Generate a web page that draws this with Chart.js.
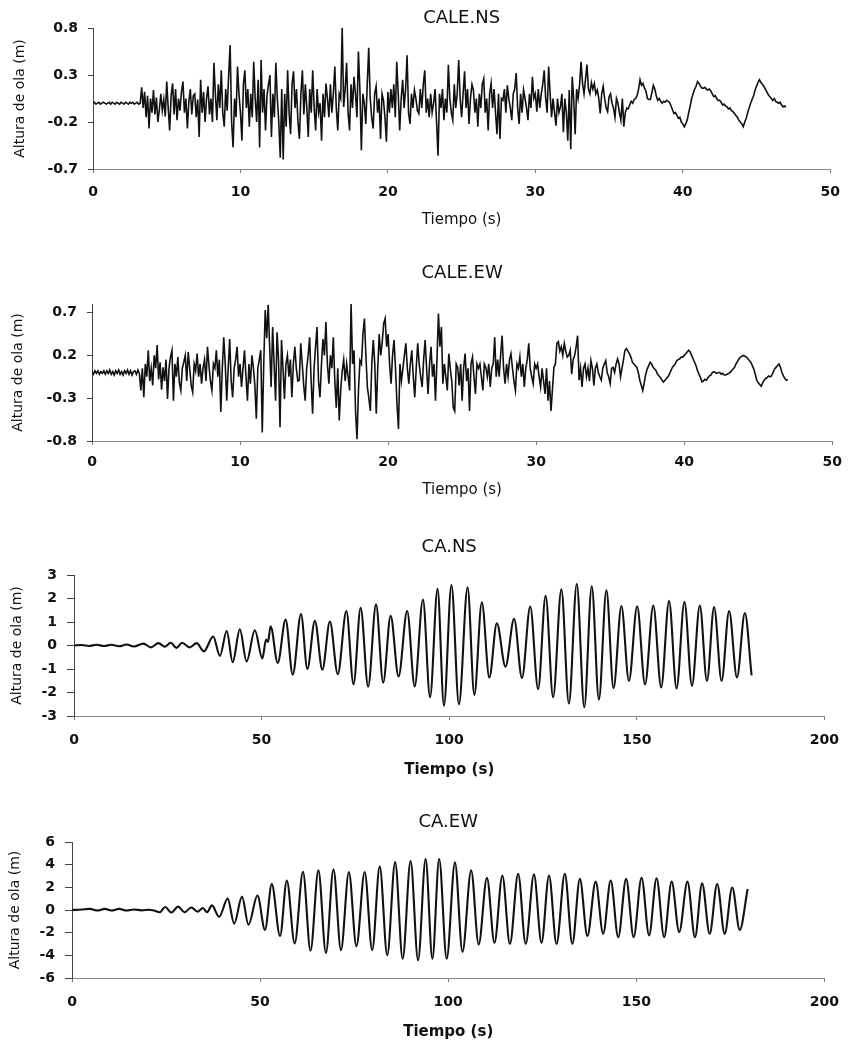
<!DOCTYPE html>
<html lang="es">
<head>
<meta charset="utf-8">
<title>Altura de ola</title>
<script src="https://cdn.jsdelivr.net/npm/chart.js@4.4.1/dist/chart.umd.min.js"></script>
<style>
  html, body { margin: 0; padding: 0; background: #fff; overflow: hidden; }
  #lienzo { position: relative; width: 851px; height: 1042px; }
  canvas { position: absolute; left: 0; }
</style>
</head>
<body>
<div id="lienzo">
  <canvas id="graficoCaleNS" width="851" height="240" style="top:0px"></canvas>
  <canvas id="graficoCaleEW" width="851" height="260" style="top:250px"></canvas>
  <canvas id="graficoCANS" width="851" height="270" style="top:520px"></canvas>
  <canvas id="graficoCAEW" width="851" height="247" style="top:795px"></canvas>
</div>
<script>
// muestras de CALE cada 0.1 s (una fila = un segundo)
const pasoCale = 0.1;

const alturaCaleNS = [
  0.00, 0.01, -0.01, 0.00, 0.01, -0.01, 0.00, 0.01, 0.00, -0.01,
  0.00, 0.01, -0.01, 0.01, 0.00, -0.01, 0.01, 0.00, -0.01, 0.01,
  0.00, -0.01, 0.01, 0.00, -0.01, 0.01, 0.00, 0.01, -0.01, 0.00,
  0.01, -0.01, 0.00, 0.17, -0.05, 0.12, -0.15, 0.08, -0.27, 0.05,
  -0.10, 0.14, -0.12, 0.06, -0.20, -0.07, 0.10, -0.08, 0.04, -0.14,
  0.23, -0.05, -0.29, 0.08, 0.21, -0.12, 0.15, -0.18, 0.05, -0.08,
  0.12, 0.23, -0.10, 0.05, -0.27, 0.02, 0.15, -0.12, 0.08, 0.10,
  -0.15, 0.04, -0.36, 0.25, -0.10, 0.12, -0.20, 0.05, 0.18, -0.12,
  0.05, -0.20, 0.43, 0.10, -0.18, 0.20, -0.05, 0.35, -0.10, -0.25,
  0.15, -0.08, 0.30, 0.62, -0.20, -0.47, 0.05, -0.15, 0.39, 0.10,
  -0.10, -0.40, 0.20, 0.35, -0.05, 0.15, -0.25, 0.10, -0.15, 0.44,
  0.05, -0.20, 0.25, -0.47, 0.46, -0.10, 0.15, -0.29, 0.08, 0.20,
  0.30, -0.36, 0.10, -0.15, 0.43, 0.05, -0.20, -0.58, 0.15, -0.60,
  0.10, -0.25, 0.35, -0.10, -0.33, 0.20, 0.34, -0.05, 0.15, -0.20,
  -0.38, 0.10, 0.35, -0.12, 0.20, -0.05, -0.36, 0.15, -0.10, 0.35,
  -0.05, -0.29, 0.15, -0.10, 0.00, -0.40, 0.10, -0.15, 0.21, 0.05,
  -0.15, 0.20, -0.10, 0.10, 0.39, -0.05, -0.29, 0.10, 0.05, 0.80,
  -0.04, 0.15, 0.43, -0.10, -0.29, 0.20, -0.05, 0.28, 0.10, -0.15,
  0.55, 0.15, -0.50, 0.10, 0.00, -0.22, 0.20, 0.59, 0.05, -0.15,
  -0.27, 0.10, 0.18, -0.10, 0.05, -0.38, 0.10, 0.03, -0.15, -0.41,
  0.12, -0.10, 0.15, -0.05, 0.20, -0.15, 0.44, 0.10, -0.29, 0.05,
  0.25, -0.05, 0.15, 0.51, -0.10, -0.22, 0.10, -0.05, 0.14, 0.05,
  -0.08, -0.11, 0.15, -0.05, 0.20, 0.35, -0.10, 0.05, -0.15, 0.10,
  -0.10, 0.00, 0.15, -0.20, -0.56, 0.10, -0.05, 0.15, -0.18, 0.05,
  -0.10, 0.41, 0.05, -0.10, -0.18, 0.20, -0.05, 0.10, 0.46, 0.05,
  -0.15, 0.10, 0.34, -0.05, 0.15, -0.22, 0.05, 0.20, 0.14, -0.10,
  0.05, -0.25, 0.10, -0.05, 0.20, 0.26, -0.10, 0.05, -0.29, 0.10,
  0.21, -0.05, 0.15, -0.10, -0.33, 0.10, -0.38, 0.05, 0.03, 0.15,
  -0.10, 0.19, 0.05, -0.05, -0.18, 0.10, 0.15, 0.32, -0.05, -0.22,
  0.10, -0.10, 0.14, 0.05, -0.05, -0.18, 0.10, -0.05, 0.28, 0.05,
  0.10, -0.09, 0.15, -0.05, 0.10, 0.20, 0.35, 0.05, -0.10, 0.39,
  0.10, -0.15, 0.05, -0.10, -0.24, 0.05, -0.10, -0.04, 0.10, -0.31,
  0.05, -0.10, -0.40, 0.14, -0.49, 0.28, 0.05, -0.33, 0.15, 0.05,
  0.20, 0.44, 0.21, 0.10, 0.25, 0.41, 0.15, 0.10, 0.22, 0.15,
  0.21, 0.10, 0.14, 0.05, -0.11, 0.10, 0.18, 0.05, -0.05, -0.09,
  0.07, 0.10, 0.00, -0.05, -0.15, 0.05, 0.00, -0.10, -0.18, 0.05,
  -0.25, -0.10, -0.05, -0.06, -0.02, 0.02, 0.00, 0.04, 0.05, 0.08,
  0.15, 0.25, 0.19, 0.21, 0.16, 0.13, 0.05, 0.04, 0.04, 0.11,
  0.19, 0.15, 0.08, 0.03, 0.05, 0.02, 0.00, 0.02, 0.01, 0.03,
  0.02, 0.01, -0.03, -0.07, -0.11, -0.10, -0.13, -0.16, -0.15, -0.20,
  -0.22, -0.25, -0.22, -0.18, -0.10, -0.03, 0.05, 0.10, 0.15, 0.18,
  0.23, 0.21, 0.18, 0.16, 0.16, 0.17, 0.15, 0.14, 0.15, 0.13,
  0.10, 0.07, 0.08, 0.05, 0.03, 0.03, 0.01, -0.02, -0.01, -0.03,
  -0.04, -0.06, -0.05, -0.08, -0.09, -0.11, -0.13, -0.15, -0.18, -0.20,
  -0.22, -0.25, -0.20, -0.16, -0.10, -0.05, 0.00, 0.04, 0.08, 0.14,
  0.18, 0.22, 0.25, 0.22, 0.20, 0.18, 0.15, 0.12, 0.09, 0.07,
  0.05, 0.03, 0.05, 0.02, 0.01, 0.00, 0.01, -0.02, -0.04, -0.03,
  -0.04
];

const alturaCaleEW = [
  0.01, -0.02, 0.02, -0.01, 0.02, -0.02, 0.01, -0.01, 0.02, -0.02,
  0.02, -0.01, 0.03, -0.02, 0.01, -0.03, 0.02, -0.01, 0.03, -0.02,
  0.01, -0.03, 0.02, -0.01, 0.03, -0.02, 0.02, -0.03, 0.01, 0.02,
  -0.02, 0.03, -0.01, -0.21, 0.05, -0.29, 0.10, -0.05, 0.26, -0.10,
  0.05, -0.15, 0.20, 0.05, 0.32, -0.08, 0.12, -0.20, 0.06, -0.10,
  0.15, -0.31, 0.05, 0.18, 0.26, -0.33, 0.10, -0.05, 0.18, -0.12,
  -0.21, 0.05, 0.12, 0.20, -0.10, 0.24, 0.05, -0.15, -0.23, 0.10,
  0.02, 0.22, -0.05, 0.10, -0.13, 0.05, 0.15, -0.10, 0.30, 0.08,
  -0.10, -0.21, 0.10, 0.05, 0.26, -0.05, 0.15, -0.46, 0.05, 0.41,
  0.10, -0.33, 0.05, 0.39, -0.10, -0.29, 0.05, 0.15, 0.30, -0.05,
  0.10, -0.17, 0.05, 0.26, -0.05, -0.33, 0.10, -0.13, 0.20, 0.06,
  -0.15, -0.54, 0.05, 0.15, 0.26, -0.70, 0.10, 0.73, 0.40, 0.79,
  0.30, -0.17, 0.53, 0.10, -0.33, 0.47, 0.15, -0.64, 0.38, 0.05,
  -0.31, 0.10, 0.20, -0.05, 0.15, -0.29, 0.10, 0.30, 0.05, -0.10,
  -0.09, 0.34, 0.10, -0.15, -0.33, 0.05, 0.20, 0.41, -0.10, -0.48,
  0.05, 0.30, 0.53, -0.10, -0.29, 0.10, 0.39, 0.20, 0.59, 0.10,
  -0.13, 0.20, 0.05, 0.41, -0.10, -0.41, 0.05, -0.56, -0.20, 0.02,
  0.15, -0.10, 0.10, -0.05, -0.21, 0.80, 0.10, 0.26, -0.45, -0.78,
  -0.20, 0.14, 0.10, 0.45, 0.63, 0.20, -0.17, -0.30, -0.45, 0.10,
  0.38, 0.10, -0.48, 0.05, 0.45, 0.20, 0.35, 0.57, 0.63, 0.30,
  0.45, 0.10, -0.13, 0.20, 0.38, 0.05, -0.37, -0.66, 0.10, -0.10,
  0.05, 0.20, 0.34, 0.05, -0.13, 0.10, 0.26, -0.05, -0.29, 0.05,
  0.34, 0.10, -0.05, -0.17, 0.15, 0.38, 0.05, -0.25, 0.10, 0.30,
  -0.05, 0.10, -0.33, 0.15, 0.69, 0.30, 0.53, -0.13, 0.10, -0.05,
  -0.21, 0.22, 0.05, -0.10, -0.41, -0.45, 0.10, 0.06, -0.15, 0.10,
  -0.33, 0.05, 0.22, -0.10, 0.05, -0.45, 0.10, 0.18, -0.05, -0.25,
  0.10, 0.05, 0.10, -0.05, -0.21, 0.10, 0.06, -0.05, 0.10, -0.17,
  0.05, 0.10, 0.41, -0.05, 0.15, -0.05, 0.20, 0.43, 0.05, -0.13,
  0.10, -0.05, 0.15, 0.22, 0.05, -0.10, -0.21, 0.10, 0.05, 0.18,
  -0.05, 0.10, -0.17, 0.05, 0.15, 0.34, 0.05, -0.05, -0.13, 0.10,
  0.05, 0.10, -0.05, -0.17, 0.05, -0.10, -0.25, 0.05, -0.33, -0.10,
  -0.45, -0.20, 0.06, 0.10, 0.34, 0.36, 0.25, 0.30, 0.20, 0.34,
  0.25, 0.18, 0.20, 0.26, -0.02, 0.15, 0.20, 0.30, 0.43, -0.09,
  0.05, -0.17, 0.05, 0.10, -0.05, 0.05, -0.10, 0.14, 0.05, -0.15,
  0.05, 0.10, 0.00, -0.05, -0.09, 0.05, 0.10, 0.14, 0.00, -0.05,
  -0.13, 0.05, 0.06, 0.00, 0.10, 0.16, 0.10, -0.05, 0.05, 0.15,
  0.26, 0.28, 0.25, 0.22, 0.18, 0.12, 0.10, 0.08, 0.06, 0.00,
  -0.09, -0.15, -0.21, -0.12, -0.02, 0.04, 0.08, 0.12, 0.10, 0.06,
  0.04, 0.02, -0.02, -0.04, -0.06, -0.09, -0.11, -0.09, -0.07, -0.05,
  -0.02, 0.02, 0.06, 0.08, 0.10, 0.14, 0.15, 0.16, 0.18, 0.18,
  0.20, 0.22, 0.24, 0.26, 0.24, 0.20, 0.16, 0.12, 0.08, 0.02,
  -0.02, -0.06, -0.11, -0.10, -0.08, -0.09, -0.06, -0.04, -0.03, 0.00,
  0.01, 0.00, -0.01, 0.00, 0.00, -0.02, -0.01, -0.03, -0.03, -0.02,
  -0.01, 0.00, 0.02, 0.04, 0.06, 0.10, 0.13, 0.16, 0.18, 0.19,
  0.20, 0.19, 0.18, 0.16, 0.14, 0.12, 0.08, 0.04, -0.02, -0.09,
  -0.12, -0.14, -0.16, -0.12, -0.09, -0.07, -0.06, -0.04, -0.05, -0.04,
  0.00, 0.04, 0.06, 0.08, 0.10, 0.06, 0.00, -0.04, -0.07, -0.09,
  -0.08
];

const tiempoCANS = [0, 2, 4, 6, 8, 10, 12, 14, 16, 18.5, 20.5, 22.5, 24.2, 25.8, 27.3, 28.8, 30.8, 32.7, 34.6,
  37.1, 38.9, 40.7, 42.3, 44.2, 46.0, 48.2, 50.2, 51.2, 51.7, 52.4, 54.3, 56.4, 58.3, 60.5, 62.2, 64.2, 66.2,
  68.2, 70.3, 72.6, 74.5, 76.4, 78.4, 80.5, 82.4, 84.4, 86.5, 88.8, 90.8, 93.0, 94.9, 96.9, 98.6, 100.6, 102.6,
  104.9, 106.7, 108.7, 110.7, 112.7, 115.0, 117.3, 119.4, 121.6, 123.7, 125.7, 127.7, 129.9, 131.9, 134.0, 136.0,
  138.0, 139.9, 141.9, 143.8, 145.9, 147.9, 150.1, 152.2, 154.4, 156.5, 158.6, 160.6, 162.7, 164.7, 166.8, 168.7,
  170.6, 172.6, 174.6, 176.7, 178.8, 180.6];
const alturaCANS = [0, 0.02, -0.02, 0.03, -0.02, 0.03, -0.03, 0.04, -0.04, 0.08, -0.08, 0.10, -0.05, 0.12, -0.10, 0.12, -0.08, 0.10, -0.25,
  0.38, -0.44, 0.62, -0.71, 0.69, -0.68, 0.65, -0.55, 0.25, 0.15, 0.82, -0.74, 1.10, -1.24, 1.34, -1.00, 1.05, -1.03,
  1.02, -1.22, 1.47, -1.65, 1.60, -1.75, 1.75, -1.58, 1.26, -1.32, 1.47, -1.74, 1.96, -2.20, 2.41, -2.56, 2.57, -2.50,
  2.48, -2.10, 1.84, -1.37, 0.95, -0.90, 1.14, -1.39, 1.66, -1.86, 2.12, -2.20, 2.39, -2.47, 2.62, -2.63,
  2.52, -2.30, 2.35, -1.82, 1.68, -1.51, 1.67, -1.66, 1.70, -1.78, 1.90, -1.83, 1.86, -1.72, 1.70, -1.51,
  1.64, -1.51, 1.47, -1.36, 1.38, -1.27];

const tiempoCAEW = [0, 2.5, 4.7, 6.8, 8.7, 10.6, 12.5, 14.5, 16.5, 18.5, 20.5, 21.8, 23.3, 24.8, 26.4, 28.2, 29.9,
  31.7, 33.4, 34.8, 35.9, 37.2, 39.1, 41.4, 43.1, 45.2, 46.9, 49.3, 51.3, 53.1, 55.3, 57.1, 59.2, 61.4, 63.4, 65.5,
  67.5, 69.5, 71.5, 73.6, 75.6, 77.8, 79.8, 81.8, 83.8, 85.9, 87.9, 90.0, 92.0, 94.0, 95.8, 97.6, 99.6, 101.8,
  103.8, 106.1, 108.1, 110.3, 112.3, 114.4, 116.4, 118.6, 120.6, 122.8, 124.8, 126.8, 128.8, 131.0, 133.0, 135.0,
  137.0, 139.2, 141.2, 143.2, 145.2, 147.3, 149.3, 151.4, 153.4, 155.4, 157.4, 159.4, 161.4, 163.6, 165.6, 167.5,
  169.5, 171.5, 173.5, 175.5, 177.5, 179.6];
const alturaCAEW = [0, 0.04, 0.10, -0.04, 0.10, -0.05, 0.10, -0.04, 0.05, -0.03, 0.02, -0.05, -0.20, 0.26, -0.22, 0.30, -0.20,
  0.22, -0.15, 0.18, -0.20, 0.41, -0.60, 1.00, -1.20, 1.18, -1.30, 1.28, -1.75, 2.28, -2.30, 2.60, -2.95, 3.38, -3.60, 3.50,
  -3.80, 3.60, -3.55, 3.35, -3.20, 3.35, -3.55, 3.85, -4.00, 4.22, -4.30, 4.32, -4.44, 4.50, -4.30, 4.50, -4.30, 4.20,
  -3.70, 3.50, -3.05, 2.85, -2.90, 3.05, -3.00, 3.20, -3.00, 3.15, -2.90, 3.05, -3.00, 3.20, -3.00, 2.75,
  -2.30, 2.50, -2.10, 2.60, -2.40, 2.75, -2.40, 2.85, -2.25, 2.80, -2.40, 2.50, -1.95, 2.50, -2.40, 2.35,
  -2.10, 2.30, -2.10, 1.98, -1.75, 1.85];

// marcas de los ejes
const ticksXCale = [0, 10, 20, 30, 40, 50];
const ticksXCA = [0, 50, 100, 150, 200];
const ticksYCaleNS = [-0.7, -0.2, 0.3, 0.8];
const ticksYCaleEW = [-0.8, -0.3, 0.2, 0.7];
const ticksYCANS = [-3, -2, -1, 0, 1, 2, 3];
const ticksYCAEW = [-6, -4, -2, 0, 2, 4, 6];

const fuente = "'DejaVu Sans', 'Liberation Sans', sans-serif";
const tinta = '#111';

function unir(tiempos, alturas) {
  return alturas.map((v, i) => ({ x: tiempos[i], y: v }));
}
function muestrasCale(alturas) {
  return alturas.map((v, i) => ({ x: Math.round(i * pasoCale * 10) / 10, y: v }));
}

// titulo de cada panel, centrado sobre el area de trazado
const tituloPanel = {
  id: 'tituloPanel',
  afterDraw(chart, args, opts) {
    const { ctx, chartArea } = chart;
    ctx.save();
    ctx.font = opts.size + 'px ' + fuente;
    ctx.fillStyle = tinta;
    ctx.textAlign = 'center';
    ctx.textBaseline = 'middle';
    ctx.fillText(opts.text, (chartArea.left + chartArea.right) / 2, opts.y);
    ctx.restore();
  }
};

function crearGrafico(id, c) {
  return new Chart(document.getElementById(id), {
    type: 'line',
    data: {
      datasets: [{
        data: c.puntos,
        borderColor: tinta,
        borderWidth: c.grosor,
        pointRadius: 0,
        fill: false,
        tension: 0,
        cubicInterpolationMode: c.suave ? 'monotone' : 'default'
      }]
    },
    options: {
      responsive: false,
      animation: false,
      devicePixelRatio: 1,
      layout: { padding: { top: c.arriba, right: c.derecha, left: 0, bottom: 0 } },
      plugins: {
        legend: { display: false },
        tooltip: { enabled: false },
        tituloPanel: { text: c.titulo, y: c.yTitulo, size: 18 }
      },
      scales: {
        x: {
          type: 'linear',
          min: c.ticksX[0],
          max: c.ticksX[c.ticksX.length - 1],
          afterBuildTicks: (eje) => { eje.ticks = c.ticksX.map(v => ({ value: v })); },
          afterFit: (eje) => { eje.height = c.altoX; },
          grid: { display: true, drawOnChartArea: false, drawTicks: true, tickLength: 4, color: '#777' },
          border: { display: true, color: '#888', width: 1, dash: [3, 3] },
          ticks: {
            color: tinta,
            padding: c.padX,
            maxRotation: 0,
            font: { family: fuente, size: c.fuenteTicks, weight: 'bold' },
            callback: (v) => String(v)
          },
          title: {
            display: true,
            text: 'Tiempo (s)',
            color: tinta,
            padding: { top: 0, bottom: c.padTituloX },
            font: { family: fuente, size: 15, weight: c.tituloXNegrita ? 'bold' : 'normal' }
          }
        },
        y: {
          type: 'linear',
          min: c.minY,
          max: c.maxY,
          afterBuildTicks: (eje) => { eje.ticks = c.ticksY.map(v => ({ value: v })); },
          afterFit: (eje) => { eje.width = c.anchoY; },
          grid: { display: true, drawOnChartArea: false, drawTicks: true, tickLength: c.marcaY, color: '#444' },
          border: { display: true, color: '#444', width: 1 },
          ticks: {
            color: tinta,
            padding: c.padY,
            font: { family: fuente, size: c.fuenteTicks, weight: 'bold' },
            callback: (v) => c.decimales ? Number(v).toFixed(1) : String(v)
          },
          title: {
            display: true,
            text: 'Altura de ola (m)',
            color: tinta,
            padding: { top: c.padTituloY, bottom: 0 },
            font: { family: fuente, size: 14 }
          }
        }
      }
    },
    plugins: [tituloPanel]
  });
}

crearGrafico('graficoCaleNS', {
  puntos: muestrasCale(alturaCaleNS), grosor: 1.6, suave: false,
  titulo: 'CALE.NS', yTitulo: 18, arriba: 28, derecha: 13,
  ticksX: ticksXCale, altoX: 71, padX: 11, padTituloX: 11, tituloXNegrita: false,
  ticksY: ticksYCaleNS, minY: -0.7, maxY: 0.8, anchoY: 93, marcaY: 5, padY: 10, padTituloY: 12,
  fuenteTicks: 14, decimales: true
});

crearGrafico('graficoCaleEW', {
  puntos: muestrasCale(alturaCaleEW), grosor: 1.6, suave: false,
  titulo: 'CALE.EW', yTitulo: 23, arriba: 54, derecha: 13,
  ticksX: ticksXCale, altoX: 69, padX: 9, padTituloX: 11, tituloXNegrita: false,
  ticksY: ticksYCaleEW, minY: -0.8, maxY: 0.8, anchoY: 92, marcaY: 5, padY: 10, padTituloY: 10,
  fuenteTicks: 14, decimales: true
});

crearGrafico('graficoCANS', {
  puntos: unir(tiempoCANS, alturaCANS), grosor: 2.1, suave: true,
  titulo: 'CA.NS', yTitulo: 27, arriba: 55, derecha: 21,
  ticksX: ticksXCA, altoX: 74, padX: 12, padTituloX: 11, tituloXNegrita: true,
  ticksY: ticksYCANS, minY: -3, maxY: 3, anchoY: 74, marcaY: 7, padY: 10, padTituloY: 9,
  fuenteTicks: 14, decimales: false
});

crearGrafico('graficoCAEW', {
  puntos: unir(tiempoCAEW, alturaCAEW), grosor: 2.1, suave: true,
  titulo: 'CA.EW', yTitulo: 27, arriba: 47, derecha: 19,
  ticksX: ticksXCA, altoX: 64, padX: 12, padTituloX: 1, tituloXNegrita: true,
  ticksY: ticksYCAEW, minY: -6, maxY: 6, anchoY: 72, marcaY: 7, padY: 10, padTituloY: 7,
  fuenteTicks: 14, decimales: false
});
</script>
</body>
</html>
